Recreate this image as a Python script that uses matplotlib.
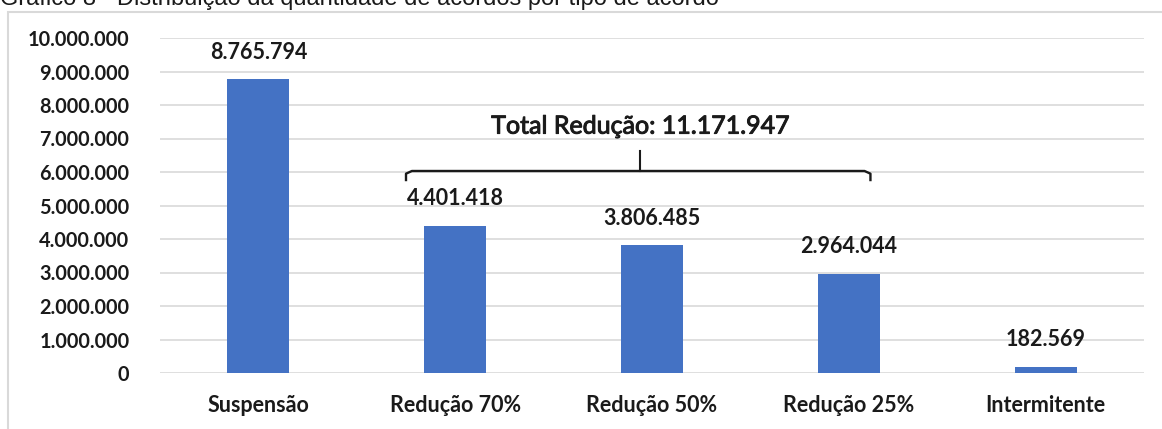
import matplotlib
matplotlib.use("Agg")
import matplotlib.pyplot as plt
import matplotlib.patheffects as pe
from matplotlib.patches import Rectangle
from matplotlib.ticker import FuncFormatter

categories = ["Suspensão", "Redução 70%", "Redução 50%", "Redução 25%", "Intermitente"]
values = [8765794, 4401418, 3806485, 2964044, 182569]
total_reducao = 11171947
y_ticks = list(range(0, 10_000_001, 1_000_000))

BLUE = "#4472C4"
GRID = "#d9d9d9"
INK = "#1a1a1a"


def br(n):
    return f"{n:,.0f}".replace(",", ".")


plt.rcParams["font.family"] = ["Lato", "DejaVu Sans"]

fig = plt.figure(figsize=(11.62, 4.29), dpi=100)
ax = fig.add_axes([160 / 1162, 1 - 373 / 429, (1144 - 160) / 1162, (373 - 38) / 429])

# outer frame of the chart area
fig.patches.append(Rectangle((8 / 1162, -0.1), 1.2, 1 - 12 / 429 + 0.1,
                             transform=fig.transFigure, fill=False,
                             edgecolor=GRID, linewidth=1.5))
fig.text(0, 1 - 5 / 429, "Gráfico 8 - Distribuição da quantidade de acordos por tipo de acordo",
         family="Liberation Sans", fontsize=17, va="baseline", ha="left", color=INK)

x = list(range(len(categories)))
ax.bar(x, values, width=0.315, color=BLUE, zorder=2)
for xi, v in zip(x, values):
    ax.annotate(br(v), (xi, v), xytext=(0, 12), textcoords="offset points",
                ha="center", va="bottom", fontsize=15.5, fontweight="bold", color=INK)

ax.set_xlim(-0.5, 4.5)
ax.set_ylim(0, 10_000_000)
ax.set_yticks(y_ticks)
ax.yaxis.set_major_formatter(FuncFormatter(lambda v, p: br(v)))
ax.set_xticks(x)
ax.set_xticklabels(categories)
for lab in ax.get_yticklabels():
    lab.set_fontweight("bold")
    lab.set_fontsize(14.3)
    lab.set_color(INK)
for lab in ax.get_xticklabels():
    lab.set_fontweight("bold")
    lab.set_fontsize(15.5)
    lab.set_color(INK)
ax.tick_params(axis="both", length=0)
ax.tick_params(axis="x", pad=16)
ax.tick_params(axis="y", pad=22)
ax.grid(True, axis="y", color=GRID, linewidth=1.2, zorder=0)
for s in ax.spines.values():
    s.set_visible(False)

# brace over the three "Redução" bars
bx0, bx1, bxc = 0.75, 3.11, 1.94
by, by_end, by_top = 6.03e6, 5.76e6, 6.63e6
ax.plot([bx0, bx0, bx0 + 0.03, bx1 - 0.03, bx1, bx1],
        [by_end, by - 0.08e6, by, by, by - 0.08e6, by_end],
        color=INK, linewidth=1.7, zorder=3, solid_joinstyle="round")
ax.plot([bxc, bxc], [by, by_top], color=INK, linewidth=1.5, zorder=3)
ax.text(bxc, 7.37e6, f"Total Redução: {br(total_reducao)}", ha="center", va="center",
        fontsize=18, color=INK,
        path_effects=[pe.withStroke(linewidth=0.7, foreground=INK)])

fig.savefig("out.png", dpi=100)
